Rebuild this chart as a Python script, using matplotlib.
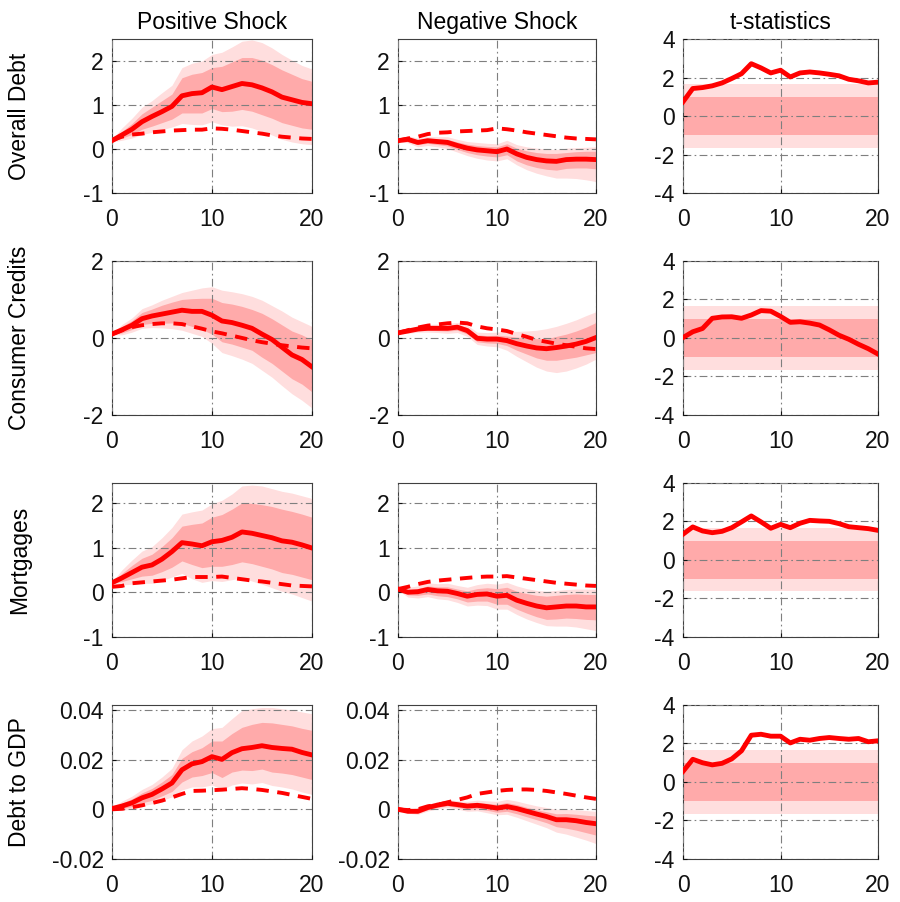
import numpy as np
import matplotlib
matplotlib.use("Agg")
import matplotlib.pyplot as plt

plt.rcParams['font.family'] = ['Liberation Sans', 'DejaVu Sans']
plt.rcParams['axes.unicode_minus'] = False

# ------------------------------------------------------------
# dados (horizonte 0..20)
# ------------------------------------------------------------
horizonte = np.arange(21)

titulos_col = ["Positive Shock", "Negative Shock", "t-statistics"]
titulos_lin = ["Overall Debt", "Consumer Credits", "Mortgages", "Debt to GDP"]

# Overall Debt
od_pos = [0.19, 0.32, 0.45, 0.62, 0.74, 0.85, 0.97, 1.21, 1.26, 1.28, 1.41, 1.35, 1.42, 1.49, 1.46, 1.39, 1.30, 1.18, 1.12, 1.06, 1.03]
od_pos_lin = [0.20, 0.28, 0.33, 0.35, 0.38, 0.40, 0.42, 0.43, 0.44, 0.44, 0.47, 0.46, 0.44, 0.41, 0.38, 0.35, 0.31, 0.28, 0.26, 0.24, 0.23]
od_pos_hi68 = [0.21, 0.40, 0.58, 0.80, 0.95, 1.10, 1.25, 1.62, 1.70, 1.74, 1.85, 1.88, 1.98, 2.08, 2.08, 2.02, 1.92, 1.80, 1.70, 1.60, 1.54]
od_pos_lo68 = [0.17, 0.25, 0.33, 0.45, 0.52, 0.60, 0.68, 0.82, 0.82, 0.82, 0.92, 0.85, 0.86, 0.90, 0.86, 0.78, 0.70, 0.60, 0.54, 0.48, 0.45]
od_pos_hi90 = [0.22, 0.48, 0.70, 0.95, 1.10, 1.28, 1.45, 1.85, 1.95, 2.00, 2.15, 2.20, 2.32, 2.45, 2.48, 2.42, 2.30, 2.15, 2.02, 1.90, 1.82]
od_pos_lo90 = [0.16, 0.20, 0.25, 0.33, 0.38, 0.44, 0.50, 0.58, 0.56, 0.55, 0.62, 0.55, 0.52, 0.53, 0.48, 0.40, 0.32, 0.22, 0.16, 0.12, 0.10]

od_neg = [0.19, 0.22, 0.15, 0.19, 0.17, 0.15, 0.08, 0.02, -0.02, -0.04, -0.06, 0.00, -0.11, -0.19, -0.24, -0.27, -0.28, -0.24, -0.23, -0.23, -0.24]
od_neg_lin = [0.19, 0.24, 0.28, 0.34, 0.37, 0.38, 0.40, 0.41, 0.42, 0.43, 0.47, 0.45, 0.42, 0.38, 0.35, 0.32, 0.29, 0.26, 0.24, 0.23, 0.22]
od_neg_hi68 = [0.21, 0.27, 0.20, 0.24, 0.23, 0.22, 0.16, 0.11, 0.08, 0.06, 0.05, 0.12, 0.02, -0.04, -0.08, -0.10, -0.10, -0.08, -0.06, -0.05, -0.05]
od_neg_lo68 = [0.17, 0.17, 0.10, 0.13, 0.10, 0.07, -0.01, -0.08, -0.13, -0.16, -0.18, -0.13, -0.27, -0.36, -0.42, -0.46, -0.48, -0.44, -0.43, -0.43, -0.45]
od_neg_hi90 = [0.22, 0.30, 0.25, 0.29, 0.28, 0.28, 0.22, 0.17, 0.15, 0.13, 0.12, 0.20, 0.10, 0.05, 0.02, 0.00, -0.01, 0.02, 0.03, 0.04, 0.05]
od_neg_lo90 = [0.16, 0.14, 0.05, 0.08, 0.05, 0.01, -0.07, -0.15, -0.21, -0.25, -0.27, -0.22, -0.36, -0.47, -0.55, -0.61, -0.66, -0.66, -0.67, -0.70, -0.74]

od_t = [0.74, 1.43, 1.48, 1.57, 1.72, 1.95, 2.20, 2.72, 2.50, 2.24, 2.38, 2.03, 2.24, 2.29, 2.24, 2.17, 2.09, 1.91, 1.83, 1.72, 1.76]

# Consumer Credits
cc_pos = [0.10, 0.21, 0.33, 0.50, 0.57, 0.62, 0.67, 0.72, 0.69, 0.69, 0.59, 0.44, 0.40, 0.33, 0.25, 0.10, -0.04, -0.24, -0.44, -0.56, -0.75]
cc_pos_lin = [0.10, 0.20, 0.28, 0.33, 0.36, 0.38, 0.38, 0.36, 0.30, 0.24, 0.17, 0.12, 0.06, 0.00, -0.06, -0.11, -0.15, -0.19, -0.22, -0.25, -0.27]
cc_pos_hi68 = [0.11, 0.30, 0.45, 0.66, 0.75, 0.85, 0.93, 1.00, 1.02, 1.03, 1.03, 0.92, 0.88, 0.82, 0.74, 0.64, 0.50, 0.34, 0.18, 0.08, -0.05]
cc_pos_lo68 = [0.09, 0.13, 0.22, 0.35, 0.38, 0.38, 0.39, 0.38, 0.30, 0.22, 0.10, -0.10, -0.16, -0.24, -0.32, -0.50, -0.66, -0.86, -1.06, -1.20, -1.40]
cc_pos_hi90 = [0.12, 0.35, 0.52, 0.76, 0.86, 0.98, 1.08, 1.18, 1.24, 1.30, 1.33, 1.24, 1.20, 1.15, 1.08, 0.98, 0.84, 0.70, 0.54, 0.42, 0.30]
cc_pos_lo90 = [0.08, 0.08, 0.15, 0.25, 0.27, 0.26, 0.24, 0.20, 0.12, 0.04, -0.14, -0.38, -0.46, -0.55, -0.66, -0.84, -1.02, -1.24, -1.45, -1.62, -1.82]

cc_neg = [0.13, 0.18, 0.23, 0.25, 0.25, 0.25, 0.28, 0.19, -0.01, -0.03, -0.03, -0.07, -0.15, -0.21, -0.26, -0.28, -0.25, -0.21, -0.16, -0.09, 0.01]
cc_neg_lin = [0.13, 0.20, 0.27, 0.32, 0.35, 0.38, 0.40, 0.38, 0.30, 0.25, 0.22, 0.18, 0.10, 0.03, -0.05, -0.10, -0.15, -0.19, -0.23, -0.27, -0.29]
cc_neg_hi68 = [0.14, 0.21, 0.27, 0.30, 0.31, 0.32, 0.34, 0.27, 0.08, 0.06, 0.07, 0.05, 0.02, 0.00, -0.02, -0.02, 0.04, 0.10, 0.18, 0.28, 0.40]
cc_neg_lo68 = [0.12, 0.15, 0.19, 0.20, 0.19, 0.18, 0.20, 0.10, -0.10, -0.13, -0.14, -0.20, -0.32, -0.42, -0.52, -0.58, -0.58, -0.54, -0.50, -0.44, -0.38]
cc_neg_hi90 = [0.15, 0.24, 0.31, 0.35, 0.36, 0.38, 0.40, 0.33, 0.15, 0.14, 0.15, 0.17, 0.17, 0.18, 0.20, 0.24, 0.30, 0.38, 0.47, 0.58, 0.68]
cc_neg_lo90 = [0.11, 0.12, 0.15, 0.15, 0.14, 0.12, 0.14, 0.04, -0.17, -0.21, -0.23, -0.32, -0.48, -0.62, -0.76, -0.86, -0.90, -0.86, -0.78, -0.68, -0.55]

cc_t = [0.02, 0.32, 0.49, 1.02, 1.09, 1.10, 1.02, 1.19, 1.42, 1.39, 1.12, 0.81, 0.84, 0.77, 0.67, 0.42, 0.14, -0.07, -0.33, -0.56, -0.84]

# Mortgages
mo_pos = [0.21, 0.32, 0.44, 0.56, 0.61, 0.74, 0.91, 1.11, 1.08, 1.04, 1.13, 1.16, 1.23, 1.35, 1.32, 1.27, 1.22, 1.15, 1.12, 1.06, 0.99]
mo_pos_lin = [0.12, 0.14, 0.20, 0.22, 0.24, 0.26, 0.28, 0.31, 0.34, 0.34, 0.34, 0.35, 0.32, 0.29, 0.26, 0.24, 0.21, 0.18, 0.15, 0.14, 0.13]
mo_pos_hi68 = [0.22, 0.42, 0.60, 0.76, 0.85, 1.02, 1.22, 1.48, 1.52, 1.55, 1.68, 1.74, 1.86, 2.00, 1.99, 1.96, 1.92, 1.86, 1.81, 1.75, 1.68]
mo_pos_lo68 = [0.20, 0.24, 0.30, 0.36, 0.38, 0.46, 0.56, 0.70, 0.62, 0.55, 0.58, 0.58, 0.62, 0.68, 0.64, 0.58, 0.52, 0.44, 0.40, 0.34, 0.28]
mo_pos_hi90 = [0.23, 0.50, 0.72, 0.92, 1.02, 1.22, 1.45, 1.75, 1.80, 1.84, 1.98, 2.06, 2.20, 2.38, 2.40, 2.38, 2.32, 2.26, 2.22, 2.16, 2.10]
mo_pos_lo90 = [0.19, 0.16, 0.18, 0.20, 0.20, 0.26, 0.34, 0.42, 0.30, 0.22, 0.26, 0.24, 0.28, 0.32, 0.25, 0.18, 0.10, 0.02, -0.04, -0.12, -0.20]

mo_neg = [0.07, 0.00, 0.01, 0.06, 0.03, 0.02, -0.03, -0.09, -0.05, -0.04, -0.09, -0.07, -0.18, -0.25, -0.31, -0.35, -0.33, -0.31, -0.31, -0.33, -0.33]
mo_neg_lin = [0.07, 0.12, 0.18, 0.23, 0.26, 0.28, 0.30, 0.32, 0.34, 0.35, 0.35, 0.36, 0.33, 0.30, 0.27, 0.24, 0.21, 0.19, 0.17, 0.15, 0.14]
mo_neg_hi68 = [0.08, 0.06, 0.08, 0.14, 0.12, 0.12, 0.07, 0.03, 0.08, 0.10, 0.08, 0.11, 0.02, -0.03, -0.07, -0.09, -0.07, -0.05, -0.04, -0.05, -0.05]
mo_neg_lo68 = [0.06, -0.06, -0.07, -0.04, -0.08, -0.10, -0.15, -0.22, -0.20, -0.20, -0.27, -0.27, -0.38, -0.47, -0.55, -0.61, -0.60, -0.58, -0.59, -0.61, -0.62]
mo_neg_hi90 = [0.09, 0.11, 0.14, 0.21, 0.19, 0.20, 0.15, 0.11, 0.17, 0.20, 0.18, 0.22, 0.14, 0.08, 0.04, 0.02, 0.04, 0.06, 0.07, 0.07, 0.07]
mo_neg_lo90 = [0.05, -0.11, -0.13, -0.10, -0.15, -0.17, -0.23, -0.31, -0.29, -0.30, -0.38, -0.38, -0.50, -0.60, -0.68, -0.75, -0.76, -0.76, -0.78, -0.82, -0.86]

mo_t = [1.33, 1.71, 1.50, 1.41, 1.48, 1.67, 1.97, 2.28, 1.97, 1.64, 1.84, 1.67, 1.90, 2.05, 2.02, 2.00, 1.88, 1.72, 1.67, 1.62, 1.53]

# Debt to GDP
dg_pos = [0.0003, 0.0013, 0.0026, 0.0046, 0.0060, 0.0082, 0.0106, 0.0159, 0.0183, 0.0192, 0.0212, 0.0201, 0.0228, 0.0244, 0.0249, 0.0256, 0.0249, 0.0245, 0.0242, 0.0229, 0.0219]
dg_pos_lin = [0.0000, 0.0002, 0.0008, 0.0016, 0.0025, 0.0035, 0.0048, 0.0062, 0.0074, 0.0075, 0.0077, 0.0079, 0.0082, 0.0085, 0.0082, 0.0078, 0.0072, 0.0066, 0.0058, 0.0050, 0.0042]
dg_pos_hi68 = [0.0006, 0.0025, 0.0042, 0.0066, 0.0084, 0.0110, 0.0140, 0.0205, 0.0232, 0.0248, 0.0275, 0.0275, 0.0305, 0.0330, 0.0342, 0.0350, 0.0348, 0.0342, 0.0336, 0.0326, 0.0318]
dg_pos_lo68 = [0.0000, 0.0003, 0.0011, 0.0026, 0.0036, 0.0054, 0.0072, 0.0110, 0.0130, 0.0136, 0.0148, 0.0128, 0.0150, 0.0158, 0.0156, 0.0162, 0.0150, 0.0146, 0.0140, 0.0130, 0.0120]
dg_pos_hi90 = [0.0008, 0.0033, 0.0053, 0.0080, 0.0100, 0.0130, 0.0165, 0.0240, 0.0275, 0.0295, 0.0325, 0.0330, 0.0365, 0.0398, 0.0405, 0.0410, 0.0410, 0.0405, 0.0400, 0.0392, 0.0385]
dg_pos_lo90 = [-0.0002, -0.0004, 0.0001, 0.0014, 0.0022, 0.0036, 0.0050, 0.0078, 0.0090, 0.0090, 0.0098, 0.0080, 0.0098, 0.0106, 0.0102, 0.0108, 0.0096, 0.0090, 0.0082, 0.0070, 0.0060]

dg_neg = [0.0000, -0.0008, -0.0008, 0.0007, 0.0017, 0.0024, 0.0019, 0.0013, 0.0016, 0.0011, 0.0005, 0.0011, 0.0003, -0.0008, -0.0019, -0.0029, -0.0042, -0.0042, -0.0046, -0.0053, -0.0058]
dg_neg_lin = [0.0000, -0.0003, 0.0000, 0.0012, 0.0018, 0.0028, 0.0038, 0.0048, 0.0062, 0.0068, 0.0074, 0.0078, 0.0080, 0.0080, 0.0078, 0.0074, 0.0068, 0.0062, 0.0055, 0.0048, 0.0042]
dg_neg_hi68 = [0.0001, -0.0003, 0.0000, 0.0015, 0.0025, 0.0032, 0.0028, 0.0024, 0.0028, 0.0024, 0.0020, 0.0027, 0.0019, 0.0008, -0.0002, -0.0010, -0.0018, -0.0017, -0.0020, -0.0024, -0.0027]
dg_neg_lo68 = [-0.0001, -0.0013, -0.0016, -0.0002, 0.0008, 0.0014, 0.0008, 0.0000, 0.0002, -0.0004, -0.0012, -0.0008, -0.0018, -0.0030, -0.0042, -0.0054, -0.0070, -0.0076, -0.0084, -0.0094, -0.0104]
dg_neg_hi90 = [0.0002, 0.0000, 0.0004, 0.0020, 0.0031, 0.0039, 0.0035, 0.0032, 0.0037, 0.0034, 0.0032, 0.0040, 0.0033, 0.0023, 0.0014, 0.0007, 0.0000, 0.0000, -0.0002, -0.0005, -0.0008]
dg_neg_lo90 = [-0.0002, -0.0016, -0.0020, -0.0007, 0.0002, 0.0008, 0.0001, -0.0008, -0.0006, -0.0014, -0.0022, -0.0020, -0.0032, -0.0046, -0.0060, -0.0074, -0.0092, -0.0100, -0.0112, -0.0124, -0.0138]

dg_t = [0.55, 1.18, 1.00, 0.89, 0.97, 1.20, 1.62, 2.43, 2.48, 2.38, 2.38, 2.03, 2.22, 2.17, 2.26, 2.31, 2.26, 2.22, 2.26, 2.09, 2.14]

# faixas de significância do t (68% e 90%)
t_68 = 1.0
t_90 = 1.645

# limites e ticks de cada linha
ylims = [(-1, 2.5), (-2, 2), (-1, 2.45), (-0.02, 0.042)]
yticks = [[-1, 0, 1, 2], [-2, 0, 2], [-1, 0, 1, 2], [-0.02, 0, 0.02, 0.04]]
ytick_txt = [["-1", "0", "1", "2"], ["-2", "0", "2"], ["-1", "0", "1", "2"], ["-0.02", "0", "0.02", "0.04"]]

choques = [
    [(od_pos, od_pos_lin, od_pos_lo68, od_pos_hi68, od_pos_lo90, od_pos_hi90),
     (od_neg, od_neg_lin, od_neg_lo68, od_neg_hi68, od_neg_lo90, od_neg_hi90)],
    [(cc_pos, cc_pos_lin, cc_pos_lo68, cc_pos_hi68, cc_pos_lo90, cc_pos_hi90),
     (cc_neg, cc_neg_lin, cc_neg_lo68, cc_neg_hi68, cc_neg_lo90, cc_neg_hi90)],
    [(mo_pos, mo_pos_lin, mo_pos_lo68, mo_pos_hi68, mo_pos_lo90, mo_pos_hi90),
     (mo_neg, mo_neg_lin, mo_neg_lo68, mo_neg_hi68, mo_neg_lo90, mo_neg_hi90)],
    [(dg_pos, dg_pos_lin, dg_pos_lo68, dg_pos_hi68, dg_pos_lo90, dg_pos_hi90),
     (dg_neg, dg_neg_lin, dg_neg_lo68, dg_neg_hi68, dg_neg_lo90, dg_neg_hi90)],
]
tstats = [od_t, cc_t, mo_t, dg_t]

# ------------------------------------------------------------
# estilo
# ------------------------------------------------------------
vermelho = "#ff0000"
rosa_escuro = "#ffaaaa"
rosa_claro = "#ffdede"
grade = dict(color="#7f7f7f", linestyle=(0, (7, 3, 1.5, 3)), linewidth=0.8)

fs_tick = 16.5
fs_tit = 16.5

fig = plt.figure(figsize=(9.0, 9.02), dpi=100)

lefts = [0.1244, 0.4422, 0.7589]
widths = [0.2222, 0.2200, 0.2167]
bottoms = [0.786, 0.540, 0.294, 0.0477]
altura = 0.1707


def formata(ax):
    ax.set_xlim(0, 20)
    ax.set_xticks([0, 10, 20])
    ax.tick_params(direction="in", length=3, labelsize=fs_tick, colors="#111111")
    ax.tick_params(axis="x", pad=11)
    ax.tick_params(axis="y", pad=6)
    ax.grid(True, **grade)
    ax.set_axisbelow(False)
    for s in ax.spines.values():
        s.set_color("#404040")
        s.set_linewidth(0.8)


for i in range(4):
    for j in range(3):
        ax = fig.add_axes([lefts[j], bottoms[i], widths[j], altura])
        if j < 2:
            sol, lin, lo68, hi68, lo90, hi90 = choques[i][j]
            ax.fill_between(horizonte, lo90, hi90, color=rosa_claro, lw=0, zorder=1)
            ax.fill_between(horizonte, lo68, hi68, color=rosa_escuro, lw=0, zorder=1.2)
            ax.plot(horizonte, lin, color=vermelho, lw=2.8, ls=(0, (3.2, 2.2)), zorder=3)
            ax.plot(horizonte, sol, color=vermelho, lw=3.5, zorder=4)
            ax.set_ylim(*ylims[i])
            ax.set_yticks(yticks[i])
            ax.set_yticklabels(ytick_txt[i])
        else:
            ax.fill_between(horizonte, -t_90, t_90, color=rosa_claro, lw=0, zorder=1)
            ax.fill_between(horizonte, -t_68, t_68, color=rosa_escuro, lw=0, zorder=1.2)
            ax.plot(horizonte, tstats[i], color=vermelho, lw=3.5, zorder=4)
            ax.set_ylim(-4, 4)
            ax.set_yticks([-4, -2, 0, 2, 4])
            ax.set_yticklabels(["-4", "-2", "0", "2", "4"])
        formata(ax)

        if i == 0:
            ax.set_title(titulos_col[j], fontsize=fs_tit, pad=7)
        if j == 0:
            fig.text(0.022, bottoms[i] + altura / 2, titulos_lin[i], rotation=90,
                     ha="center", va="center", fontsize=fs_tit)

fig.savefig("out.png", dpi=100)
